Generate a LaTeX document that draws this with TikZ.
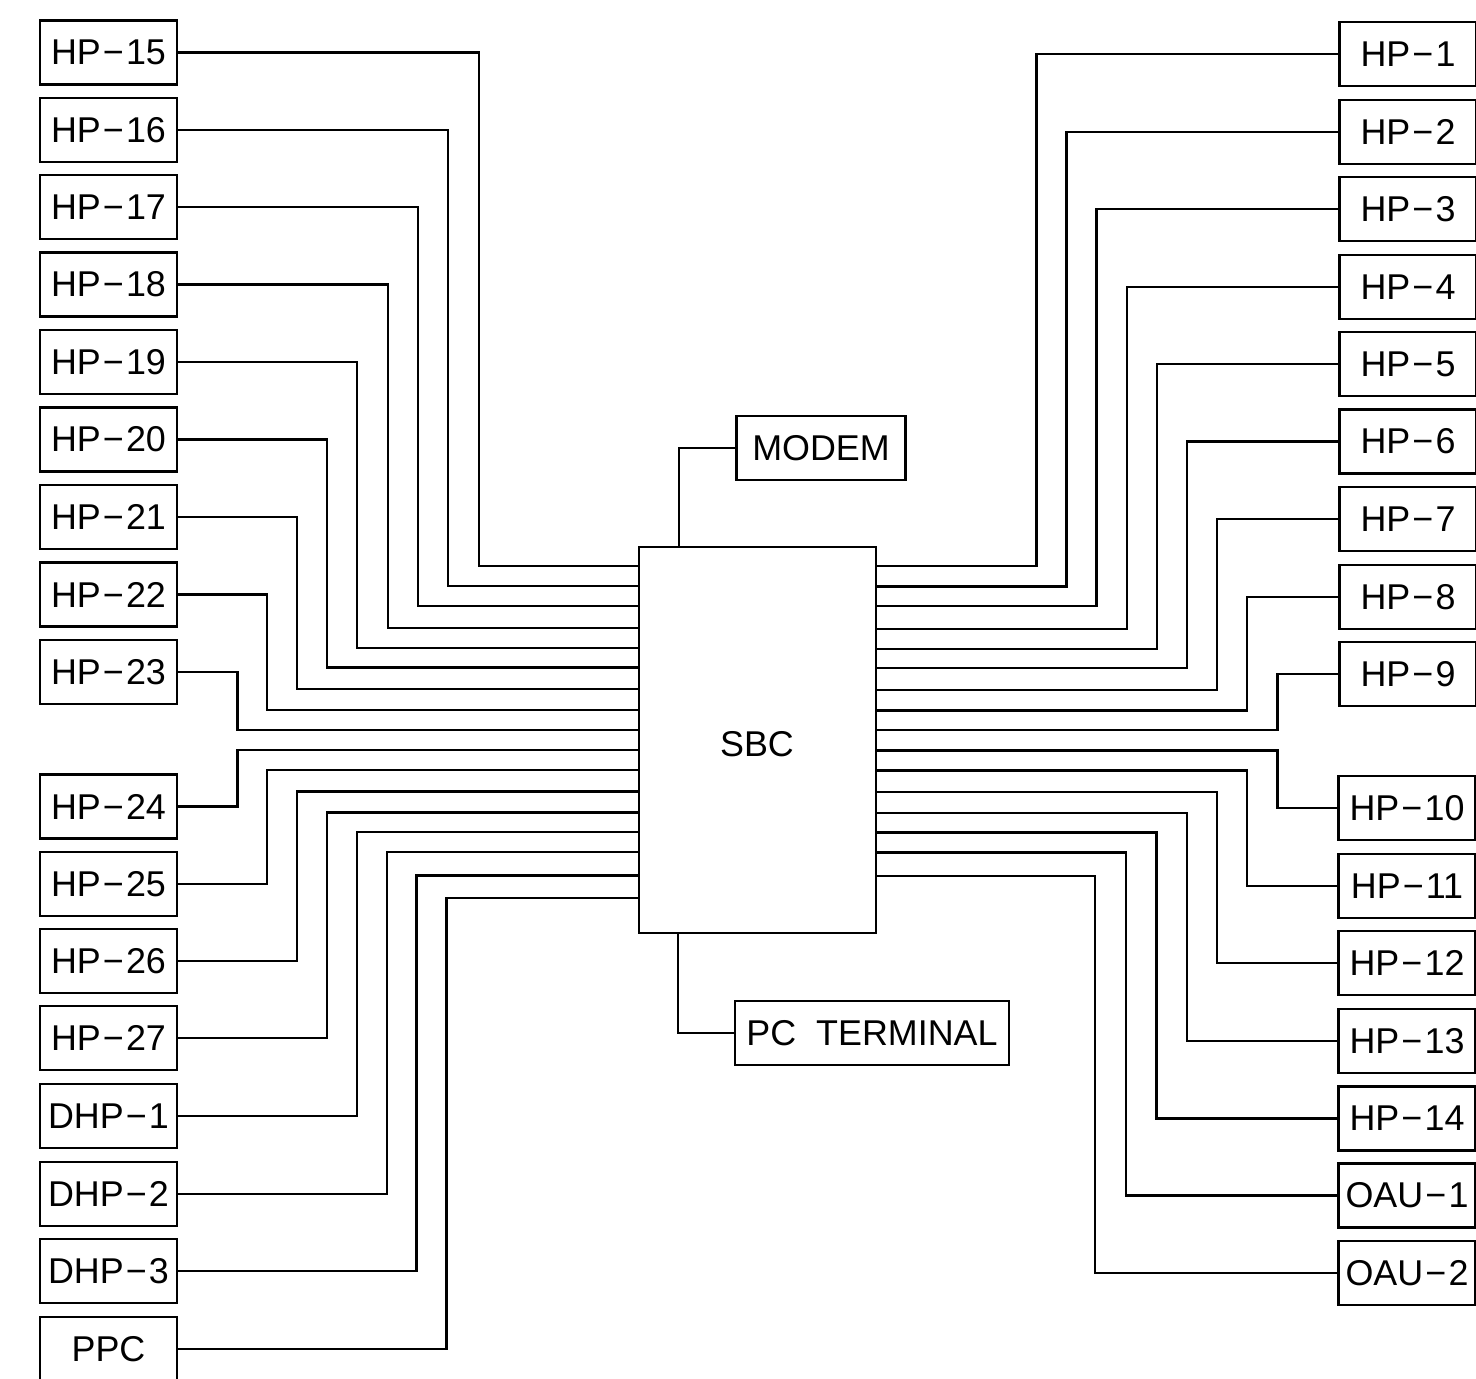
\documentclass[tikz,border=0pt]{standalone}
\usepackage{fontspec}
\setmainfont{Liberation Sans}
\usetikzlibrary{positioning}

\tikzset{
  unit/.style={draw,line width=0.75pt,minimum width=1.37cm,minimum height=0.64cm,inner sep=0pt},
  wire/.style={line width=0.75pt},
}
\newcommand{\dsh}{\kern0.06em−\kern0.06em}

\begin{document}
\begin{tikzpicture}[x=0.01cm,y=-0.01cm,font=\fontsize{10.2}{12}\selectfont]
\useasboundingbox (0,0) rectangle (1476,1378);
% central board and its two side units
\node[unit,minimum width=2.37cm,minimum height=3.86cm] (sbc) at (757.5,740) {};
\node (sbclabel) at (757,744) {SBC};
\node[unit,minimum width=1.69cm] (modem) at (821,448) {MODEM};
\node[unit,minimum width=2.74cm] (pcterm) at (872,1033) {PC\ \ TERMINAL};
\draw[wire] (sbc.north -| 679,0) |- (modem.west);
\draw[wire] (sbc.south -| 678,0) |- (pcterm.west);
% left column
\node[unit] (hp15) at (108.5,52.5) {HP\dsh 15};
\node[unit] (hp16) at (108.5,130) {HP\dsh 16};
\node[unit] (hp17) at (108.5,207) {HP\dsh 17};
\node[unit] (hp18) at (108.5,284.5) {HP\dsh 18};
\node[unit] (hp19) at (108.5,362) {HP\dsh 19};
\node[unit] (hp20) at (108.5,439.5) {HP\dsh 20};
\node[unit] (hp21) at (108.5,517) {HP\dsh 21};
\node[unit] (hp22) at (108.5,594.5) {HP\dsh 22};
\node[unit] (hp23) at (108.5,672) {HP\dsh 23};
\node[unit] (hp24) at (108.5,806.5) {HP\dsh 24};
\node[unit] (hp25) at (108.5,884) {HP\dsh 25};
\node[unit] (hp26) at (108.5,961) {HP\dsh 26};
\node[unit] (hp27) at (108.5,1038) {HP\dsh 27};
\node[unit] (dhp1) at (108.5,1116) {DHP\dsh 1};
\node[unit] (dhp2) at (108.5,1194) {DHP\dsh 2};
\node[unit] (dhp3) at (108.5,1271) {DHP\dsh 3};
\node[unit] (ppc) at (108.5,1349) {PPC};
\draw[wire] (hp15.east) -| (479,566) -- (479,566 -| sbc.west);
\draw[wire] (hp16.east) -| (448,586) -- (448,586 -| sbc.west);
\draw[wire] (hp17.east) -| (418,606) -- (418,606 -| sbc.west);
\draw[wire] (hp18.east) -| (388,628) -- (388,628 -| sbc.west);
\draw[wire] (hp19.east) -| (357,648) -- (357,648 -| sbc.west);
\draw[wire] (hp20.east) -| (327,667.5) -- (327,667.5 -| sbc.west);
\draw[wire] (hp21.east) -| (297,689) -- (297,689 -| sbc.west);
\draw[wire] (hp22.east) -| (267,710) -- (267,710 -| sbc.west);
\draw[wire] (hp23.east) -| (237.5,730) -- (237.5,730 -| sbc.west);
\draw[wire] (hp24.east) -| (237.5,750) -- (237.5,750 -| sbc.west);
\draw[wire] (hp25.east) -| (267,770) -- (267,770 -| sbc.west);
\draw[wire] (hp26.east) -| (297,791.5) -- (297,791.5 -| sbc.west);
\draw[wire] (hp27.east) -| (327,812.5) -- (327,812.5 -| sbc.west);
\draw[wire] (dhp1.east) -| (357,832) -- (357,832 -| sbc.west);
\draw[wire] (dhp2.east) -| (387,852) -- (387,852 -| sbc.west);
\draw[wire] (dhp3.east) -| (416.5,875.5) -- (416.5,875.5 -| sbc.west);
\draw[wire] (ppc.east) -| (446.5,898) -- (446.5,898 -| sbc.west);
% right column
\node[unit] (hp1) at (1408,54) {HP\dsh 1};
\node[unit] (hp2) at (1408,132) {HP\dsh 2};
\node[unit] (hp3) at (1408,209) {HP\dsh 3};
\node[unit] (hp4) at (1408,287) {HP\dsh 4};
\node[unit] (hp5) at (1408,364) {HP\dsh 5};
\node[unit] (hp6) at (1408,441.5) {HP\dsh 6};
\node[unit] (hp7) at (1408,519) {HP\dsh 7};
\node[unit] (hp8) at (1408,597) {HP\dsh 8};
\node[unit] (hp9) at (1408,674) {HP\dsh 9};
\node[unit] (hp10) at (1407,808) {HP\dsh 10};
\node[unit] (hp11) at (1407,886) {HP\dsh 11};
\node[unit] (hp12) at (1407,963) {HP\dsh 12};
\node[unit] (hp13) at (1407,1041) {HP\dsh 13};
\node[unit] (hp14) at (1407,1118.5) {HP\dsh 14};
\node[unit] (oau1) at (1407,1195.5) {OAU\dsh 1};
\node[unit] (oau2) at (1407,1273) {OAU\dsh 2};
\draw[wire] (hp1.west) -| (1036.5,566) -- (1036.5,566 -| sbc.east);
\draw[wire] (hp2.west) -| (1066.5,586.5) -- (1066.5,586.5 -| sbc.east);
\draw[wire] (hp3.west) -| (1096.7,606) -- (1096.7,606 -| sbc.east);
\draw[wire] (hp4.west) -| (1127,629) -- (1127,629 -| sbc.east);
\draw[wire] (hp5.west) -| (1157,649) -- (1157,649 -| sbc.east);
\draw[wire] (hp6.west) -| (1187,668) -- (1187,668 -| sbc.east);
\draw[wire] (hp7.west) -| (1217,690) -- (1217,690 -| sbc.east);
\draw[wire] (hp8.west) -| (1247,710.5) -- (1247,710.5 -| sbc.east);
\draw[wire] (hp9.west) -| (1277.5,730) -- (1277.5,730 -| sbc.east);
\draw[wire] (hp10.west) -| (1277.5,750.5) -- (1277.5,750.5 -| sbc.east);
\draw[wire] (hp11.west) -| (1247,770.5) -- (1247,770.5 -| sbc.east);
\draw[wire] (hp12.west) -| (1217,792) -- (1217,792 -| sbc.east);
\draw[wire] (hp13.west) -| (1187,813) -- (1187,813 -| sbc.east);
\draw[wire] (hp14.west) -| (1156.5,832.5) -- (1156.5,832.5 -| sbc.east);
\draw[wire] (oau1.west) -| (1126,852.5) -- (1126,852.5 -| sbc.east);
\draw[wire] (oau2.west) -| (1095,876) -- (1095,876 -| sbc.east);
\end{tikzpicture}
\end{document}
